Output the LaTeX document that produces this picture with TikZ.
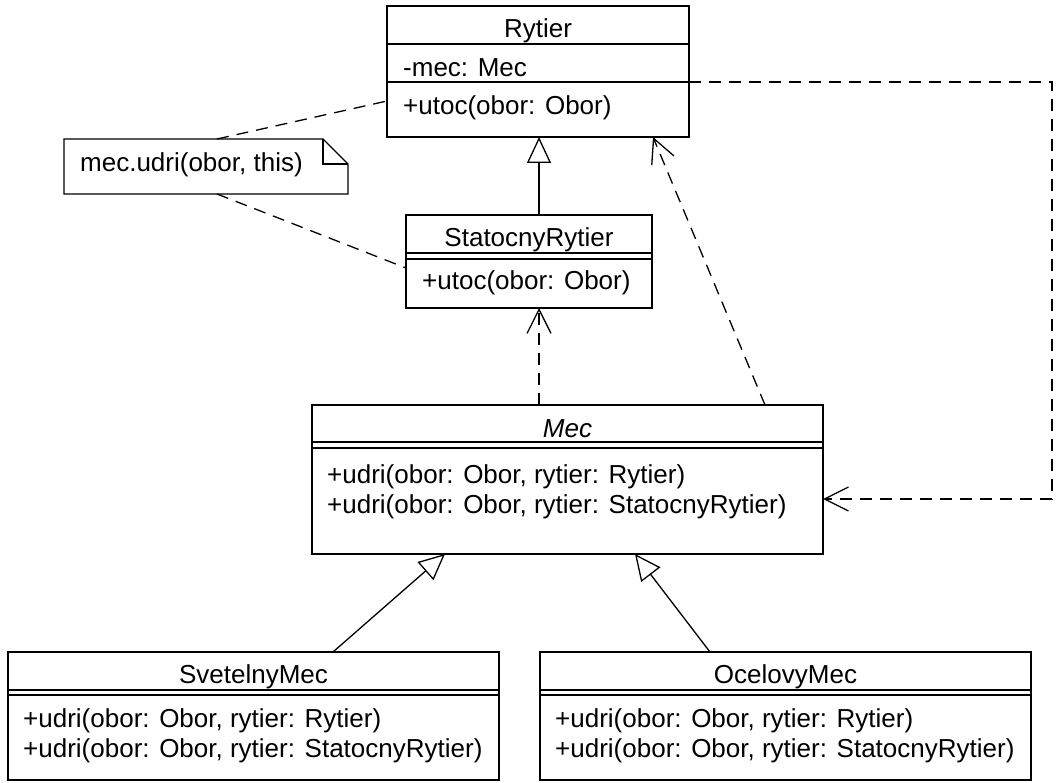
\documentclass[tikz,border=0pt]{standalone}
\usepackage{fontspec}
\setmainfont{Liberation Sans}
\usetikzlibrary{arrows.meta}
\newcommand\umlfont{\fontsize{26}{30}\selectfont}
\begin{document}
\begin{tikzpicture}[x=1pt,y=-1pt,
  cls/.style={draw, line width=1.3pt, fill=white, inner sep=0pt, outer sep=0pt},
  sepline/.style={line width=1.3pt},
  lbl/.style={font=\umlfont, inner sep=0pt, anchor=base west},
  ttl/.style={font=\umlfont, inner sep=0pt, anchor=base},
  gen/.style={line width=1.3pt, -{Triangle[length=26pt,width=24pt,fill=white]}},
  dep/.style={line width=1.3pt, dash pattern=on 12pt off 8pt, -{Straight Barb[length=24pt,width=24pt]}},
  notelink/.style={line width=1.3pt, dash pattern=on 12pt off 8pt}]
\fill[white] (0,0) rectangle (1057,783);
\useasboundingbox (0,0) rectangle (1057,783);

% Rytier
\node[cls, minimum width=302pt, minimum height=131pt] (rytier) at (538,71.5) {};
\draw[sepline] (rytier.west |- 0,44) -- (rytier.east |- 0,44);
\draw[sepline] (rytier.west |- 0,82) -- (rytier.east |- 0,82);
\node[ttl] (rytierT) at (538,38) {Rytier};
\node[lbl] (rytierA) at (403,77) {-mec: Mec};
\node[lbl] (rytierM) at (403,115) {+utoc(obor: Obor)};

% Note
\node[minimum width=284pt, minimum height=55pt, inner sep=0pt, outer sep=0pt] (note) at (206,166.5) {};
\draw[line width=1.3pt, fill=white] (note.south west) -- (note.north west) -- ([xshift=-25pt]note.north east)
  -- ([yshift=-25pt]note.north east) -- (note.south east) -- cycle;
\draw[line width=1.3pt] ([xshift=-25pt]note.north east) -- ([xshift=-25pt,yshift=-25pt]note.north east)
  -- ([yshift=-25pt]note.north east);
\node[lbl] (noteT) at (80,172) {mec.udri(obor, this)};

% StatocnyRytier
\node[cls, minimum width=246pt, minimum height=93pt] (stat) at (529,261.5) {};
\draw[sepline] (stat.west |- 0,253) -- (stat.east |- 0,253);
\draw[sepline] (stat.west |- 0,259) -- (stat.east |- 0,259);
\node[ttl] (statT) at (529,247) {StatocnyRytier};
\node[lbl] (statM) at (422,290) {+utoc(obor: Obor)};

% Mec
\node[cls, minimum width=511pt, minimum height=149pt] (mec) at (567.5,479.5) {};
\draw[sepline] (mec.west |- 0,442) -- (mec.east |- 0,442);
\draw[sepline] (mec.west |- 0,448) -- (mec.east |- 0,448);
\node[ttl, font=\umlfont\itshape] (mecT) at (567.5,437) {Mec};
\node[lbl] (mecM1) at (327,483) {+udri(obor: Obor, rytier: Rytier)};
\node[lbl] (mecM2) at (327,513) {+udri(obor: Obor, rytier: StatocnyRytier)};

% SvetelnyMec
\node[cls, minimum width=491pt, minimum height=128pt] (svet) at (253.5,716) {};
\draw[sepline] (svet.west |- 0,690) -- (svet.east |- 0,690);
\draw[sepline] (svet.west |- 0,695) -- (svet.east |- 0,695);
\node[ttl] (svetT) at (253.5,683) {SvetelnyMec};
\node[lbl] (svetM1) at (23,727) {+udri(obor: Obor, rytier: Rytier)};
\node[lbl] (svetM2) at (23,757) {+udri(obor: Obor, rytier: StatocnyRytier)};

% OcelovyMec
\node[cls, minimum width=491pt, minimum height=128pt] (ocel) at (785.5,716) {};
\draw[sepline] (ocel.west |- 0,690) -- (ocel.east |- 0,690);
\draw[sepline] (ocel.west |- 0,695) -- (ocel.east |- 0,695);
\node[ttl] (ocelT) at (785.5,683) {OcelovyMec};
\node[lbl] (ocelM1) at (555,727) {+udri(obor: Obor, rytier: Rytier)};
\node[lbl] (ocelM2) at (555,757) {+udri(obor: Obor, rytier: StatocnyRytier)};

% connectors
\draw[notelink] (note.north -| 217,0) -- (rytier.west |- 0,101);
\draw[notelink] (note.south -| 217,0) -- (stat.west |- 0,268);
\draw[gen] (stat.north -| 539,0) -- (rytier.south -| 539,0);
\draw[dep] (mec.north -| 539,0) -- (stat.south -| 539,0);
\draw[dep] (mec.north -| 765,0) -- (rytier.south -| 653,0);
\draw[dep] (rytier.east |- 0,82) -| (1052,499) -- (mec.east |- 0,499);
\draw[gen] (svet.north -| 333,0) -- (mec.south -| 445,0);
\draw[gen] (ocel.north -| 710,0) -- (mec.south -| 635,0);
\end{tikzpicture}
\end{document}
